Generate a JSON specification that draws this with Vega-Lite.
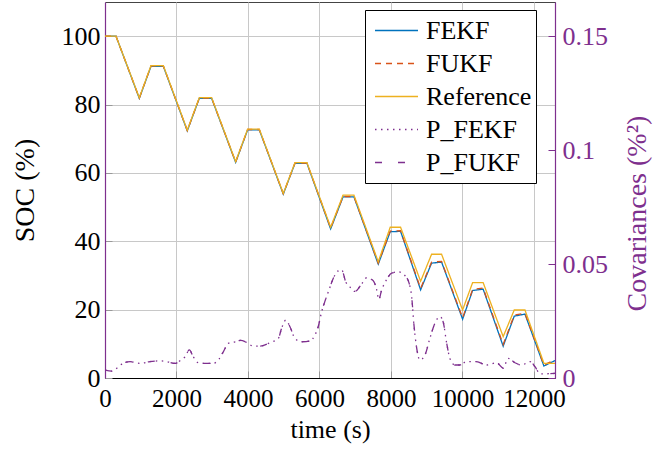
{
  "$schema": "https://vega.github.io/schema/vega-lite/v6.json",
  "width": 450,
  "height": 376,
  "autosize": {"type": "none"},
  "padding": {"left": 105, "top": 2, "right": 101, "bottom": 77},
  "background": "white",
  "config": {
    "font": "Liberation Serif",
    "view": {"stroke": "#444", "strokeWidth": 1},
    "legend": {
      "orient": "none",
      "legendX": 260,
      "legendY": 8,
      "symbolType": "stroke",
      "symbolSize": 1849,
      "symbolStrokeWidth": 1.3,
      "symbolOffset": 5,
      "labelFontSize": 26,
      "labelFont": "Liberation Serif",
      "labelColor": "black",
      "labelOffset": 7,
      "rowPadding": 0,
      "clipHeight": 33,
      "padding": 4,
      "strokeColor": "black",
      "fillColor": "white",
      "cornerRadius": 0,
      "labelLimit": 300
    }
  },
  "datasets": {
    "soc": [
      {"t": 0, "v": 100, "s": "FEKF"}, {"t": 308, "v": 100, "s": "FEKF"}, {"t": 960, "v": 81.8, "s": "FEKF"}, {"t": 1287, "v": 91.2, "s": "FEKF"}, {"t": 1632, "v": 91.2, "s": "FEKF"}, {"t": 2302, "v": 72.3, "s": "FEKF"}, {"t": 2638, "v": 81.8, "s": "FEKF"}, {"t": 2984, "v": 81.8, "s": "FEKF"}, {"t": 3655, "v": 63.1, "s": "FEKF"}, {"t": 3991, "v": 72.6, "s": "FEKF"}, {"t": 4317, "v": 72.6, "s": "FEKF"}, {"t": 4988, "v": 53.8, "s": "FEKF"}, {"t": 5315, "v": 62.8, "s": "FEKF"}, {"t": 5650, "v": 62.8, "s": "FEKF"}, {"t": 6313, "v": 43.6, "s": "FEKF"}, {"t": 6660, "v": 53.0, "s": "FEKF"}, {"t": 6965, "v": 53.0, "s": "FEKF"}, {"t": 7645, "v": 33.3, "s": "FEKF"}, {"t": 7980, "v": 42.8, "s": "FEKF"}, {"t": 8270, "v": 42.9, "s": "FEKF"}, {"t": 8830, "v": 25.8, "s": "FEKF"}, {"t": 9137, "v": 33.6, "s": "FEKF"}, {"t": 9417, "v": 33.9, "s": "FEKF"}, {"t": 10005, "v": 17.2, "s": "FEKF"}, {"t": 10285, "v": 25.6, "s": "FEKF"}, {"t": 10580, "v": 26.0, "s": "FEKF"}, {"t": 11140, "v": 9.3, "s": "FEKF"}, {"t": 11450, "v": 18.1, "s": "FEKF"}, {"t": 11750, "v": 18.7, "s": "FEKF"}, {"t": 12280, "v": 3.5, "s": "FEKF"}, {"t": 12590, "v": 5.1, "s": "FEKF"},
      {"t": 0, "v": 100, "s": "FUKF"}, {"t": 308, "v": 100, "s": "FUKF"}, {"t": 960, "v": 81.9, "s": "FUKF"}, {"t": 1287, "v": 91.3, "s": "FUKF"}, {"t": 1632, "v": 91.3, "s": "FUKF"}, {"t": 2302, "v": 72.4, "s": "FUKF"}, {"t": 2638, "v": 81.9, "s": "FUKF"}, {"t": 2984, "v": 81.9, "s": "FUKF"}, {"t": 3655, "v": 63.2, "s": "FUKF"}, {"t": 3991, "v": 72.7, "s": "FUKF"}, {"t": 4317, "v": 72.7, "s": "FUKF"}, {"t": 4988, "v": 53.9, "s": "FUKF"}, {"t": 5315, "v": 62.9, "s": "FUKF"}, {"t": 5650, "v": 62.9, "s": "FUKF"}, {"t": 6313, "v": 43.9, "s": "FUKF"}, {"t": 6660, "v": 53.1, "s": "FUKF"}, {"t": 6965, "v": 53.1, "s": "FUKF"}, {"t": 7645, "v": 33.6, "s": "FUKF"}, {"t": 7980, "v": 43.0, "s": "FUKF"}, {"t": 8270, "v": 43.1, "s": "FUKF"}, {"t": 8830, "v": 26.2, "s": "FUKF"}, {"t": 9137, "v": 33.9, "s": "FUKF"}, {"t": 9417, "v": 34.1, "s": "FUKF"}, {"t": 10005, "v": 17.6, "s": "FUKF"}, {"t": 10285, "v": 25.9, "s": "FUKF"}, {"t": 10580, "v": 26.3, "s": "FUKF"}, {"t": 11140, "v": 9.8, "s": "FUKF"}, {"t": 11450, "v": 18.4, "s": "FUKF"}, {"t": 11750, "v": 18.9, "s": "FUKF"}, {"t": 12280, "v": 3.8, "s": "FUKF"}, {"t": 12590, "v": 5.3, "s": "FUKF"},
      {"t": 0, "v": 100, "s": "Reference"}, {"t": 308, "v": 100, "s": "Reference"}, {"t": 960, "v": 82.0, "s": "Reference"}, {"t": 1287, "v": 91.4, "s": "Reference"}, {"t": 1632, "v": 91.4, "s": "Reference"}, {"t": 2302, "v": 72.5, "s": "Reference"}, {"t": 2638, "v": 82.0, "s": "Reference"}, {"t": 2984, "v": 82.0, "s": "Reference"}, {"t": 3655, "v": 63.3, "s": "Reference"}, {"t": 3991, "v": 72.8, "s": "Reference"}, {"t": 4317, "v": 72.8, "s": "Reference"}, {"t": 4988, "v": 54.0, "s": "Reference"}, {"t": 5315, "v": 63.0, "s": "Reference"}, {"t": 5650, "v": 63.0, "s": "Reference"}, {"t": 6313, "v": 44.1, "s": "Reference"}, {"t": 6660, "v": 53.5, "s": "Reference"}, {"t": 6965, "v": 53.5, "s": "Reference"}, {"t": 7645, "v": 34.0, "s": "Reference"}, {"t": 7980, "v": 44.1, "s": "Reference"}, {"t": 8270, "v": 44.1, "s": "Reference"}, {"t": 8830, "v": 28.3, "s": "Reference"}, {"t": 9137, "v": 36.2, "s": "Reference"}, {"t": 9417, "v": 36.2, "s": "Reference"}, {"t": 10005, "v": 19.9, "s": "Reference"}, {"t": 10285, "v": 27.9, "s": "Reference"}, {"t": 10580, "v": 27.9, "s": "Reference"}, {"t": 11140, "v": 12.1, "s": "Reference"}, {"t": 11450, "v": 19.9, "s": "Reference"}, {"t": 11750, "v": 19.9, "s": "Reference"}, {"t": 12280, "v": 4.3, "s": "Reference"}, {"t": 12590, "v": 4.3, "s": "Reference"}
    ],
    "cov": [
      {"t": 0, "c": 0.0035, "s": "P_FEKF"}, {"t": 190, "c": 0.003, "s": "P_FEKF"}, {"t": 330, "c": 0.0043, "s": "P_FEKF"}, {"t": 470, "c": 0.0061, "s": "P_FEKF"}, {"t": 700, "c": 0.0072, "s": "P_FEKF"}, {"t": 980, "c": 0.0064, "s": "P_FEKF"}, {"t": 1260, "c": 0.0072, "s": "P_FEKF"}, {"t": 1540, "c": 0.0075, "s": "P_FEKF"}, {"t": 1725, "c": 0.0072, "s": "P_FEKF"}, {"t": 1960, "c": 0.0064, "s": "P_FEKF"}, {"t": 2100, "c": 0.0076, "s": "P_FEKF"}, {"t": 2240, "c": 0.0093, "s": "P_FEKF"}, {"t": 2360, "c": 0.0123, "s": "P_FEKF"}, {"t": 2470, "c": 0.0093, "s": "P_FEKF"}, {"t": 2610, "c": 0.0067, "s": "P_FEKF"}, {"t": 2840, "c": 0.0064, "s": "P_FEKF"}, {"t": 3030, "c": 0.0064, "s": "P_FEKF"}, {"t": 3170, "c": 0.0079, "s": "P_FEKF"}, {"t": 3310, "c": 0.0115, "s": "P_FEKF"}, {"t": 3450, "c": 0.0152, "s": "P_FEKF"}, {"t": 3640, "c": 0.0159, "s": "P_FEKF"}, {"t": 3800, "c": 0.0165, "s": "P_FEKF"}, {"t": 3950, "c": 0.0157, "s": "P_FEKF"}, {"t": 4150, "c": 0.014, "s": "P_FEKF"}, {"t": 4335, "c": 0.014, "s": "P_FEKF"}, {"t": 4615, "c": 0.0155, "s": "P_FEKF"}, {"t": 4850, "c": 0.0174, "s": "P_FEKF"}, {"t": 4940, "c": 0.0218, "s": "P_FEKF"}, {"t": 5060, "c": 0.0254, "s": "P_FEKF"}, {"t": 5175, "c": 0.0225, "s": "P_FEKF"}, {"t": 5315, "c": 0.0174, "s": "P_FEKF"}, {"t": 5500, "c": 0.0159, "s": "P_FEKF"}, {"t": 5735, "c": 0.0162, "s": "P_FEKF"}, {"t": 5875, "c": 0.0189, "s": "P_FEKF"}, {"t": 5965, "c": 0.0225, "s": "P_FEKF"}, {"t": 6060, "c": 0.029, "s": "P_FEKF"}, {"t": 6150, "c": 0.0335, "s": "P_FEKF"}, {"t": 6275, "c": 0.039, "s": "P_FEKF"}, {"t": 6385, "c": 0.0437, "s": "P_FEKF"}, {"t": 6525, "c": 0.047, "s": "P_FEKF"}, {"t": 6620, "c": 0.0475, "s": "P_FEKF"}, {"t": 6740, "c": 0.042, "s": "P_FEKF"}, {"t": 6850, "c": 0.04, "s": "P_FEKF"}, {"t": 6990, "c": 0.038, "s": "P_FEKF"}, {"t": 7180, "c": 0.0413, "s": "P_FEKF"}, {"t": 7320, "c": 0.044, "s": "P_FEKF"}, {"t": 7505, "c": 0.0427, "s": "P_FEKF"}, {"t": 7600, "c": 0.0388, "s": "P_FEKF"}, {"t": 7660, "c": 0.0345, "s": "P_FEKF"}, {"t": 7740, "c": 0.0386, "s": "P_FEKF"}, {"t": 7880, "c": 0.0432, "s": "P_FEKF"}, {"t": 8020, "c": 0.046, "s": "P_FEKF"}, {"t": 8205, "c": 0.0466, "s": "P_FEKF"}, {"t": 8390, "c": 0.045, "s": "P_FEKF"}, {"t": 8510, "c": 0.0415, "s": "P_FEKF"}, {"t": 8580, "c": 0.0357, "s": "P_FEKF"}, {"t": 8640, "c": 0.024, "s": "P_FEKF"}, {"t": 8715, "c": 0.0137, "s": "P_FEKF"}, {"t": 8810, "c": 0.0079, "s": "P_FEKF"}, {"t": 8950, "c": 0.01, "s": "P_FEKF"}, {"t": 9090, "c": 0.0174, "s": "P_FEKF"}, {"t": 9230, "c": 0.024, "s": "P_FEKF"}, {"t": 9370, "c": 0.0269, "s": "P_FEKF"}, {"t": 9460, "c": 0.0247, "s": "P_FEKF"}, {"t": 9560, "c": 0.0152, "s": "P_FEKF"}, {"t": 9650, "c": 0.0086, "s": "P_FEKF"}, {"t": 9790, "c": 0.0057, "s": "P_FEKF"}, {"t": 9930, "c": 0.0057, "s": "P_FEKF"}, {"t": 10115, "c": 0.0072, "s": "P_FEKF"}, {"t": 10395, "c": 0.0072, "s": "P_FEKF"}, {"t": 10675, "c": 0.0057, "s": "P_FEKF"}, {"t": 10955, "c": 0.0067, "s": "P_FEKF"}, {"t": 11140, "c": 0.0043, "s": "P_FEKF"}, {"t": 11280, "c": 0.0086, "s": "P_FEKF"}, {"t": 11470, "c": 0.0067, "s": "P_FEKF"}, {"t": 11655, "c": 0.0057, "s": "P_FEKF"}, {"t": 11890, "c": 0.0072, "s": "P_FEKF"}, {"t": 12030, "c": 0.005, "s": "P_FEKF"}, {"t": 12170, "c": 0.0018, "s": "P_FEKF"}, {"t": 12590, "c": 0.002, "s": "P_FEKF"},
      {"t": 0, "c": 0.0035, "s": "P_FUKF"}, {"t": 190, "c": 0.003, "s": "P_FUKF"}, {"t": 330, "c": 0.0043, "s": "P_FUKF"}, {"t": 470, "c": 0.0061, "s": "P_FUKF"}, {"t": 700, "c": 0.0072, "s": "P_FUKF"}, {"t": 980, "c": 0.0064, "s": "P_FUKF"}, {"t": 1260, "c": 0.0072, "s": "P_FUKF"}, {"t": 1540, "c": 0.0075, "s": "P_FUKF"}, {"t": 1725, "c": 0.0072, "s": "P_FUKF"}, {"t": 1960, "c": 0.0064, "s": "P_FUKF"}, {"t": 2100, "c": 0.0076, "s": "P_FUKF"}, {"t": 2240, "c": 0.0093, "s": "P_FUKF"}, {"t": 2360, "c": 0.0123, "s": "P_FUKF"}, {"t": 2470, "c": 0.0093, "s": "P_FUKF"}, {"t": 2610, "c": 0.0067, "s": "P_FUKF"}, {"t": 2840, "c": 0.0064, "s": "P_FUKF"}, {"t": 3030, "c": 0.0064, "s": "P_FUKF"}, {"t": 3170, "c": 0.0079, "s": "P_FUKF"}, {"t": 3310, "c": 0.0115, "s": "P_FUKF"}, {"t": 3450, "c": 0.0152, "s": "P_FUKF"}, {"t": 3640, "c": 0.0159, "s": "P_FUKF"}, {"t": 3800, "c": 0.0165, "s": "P_FUKF"}, {"t": 3950, "c": 0.0157, "s": "P_FUKF"}, {"t": 4150, "c": 0.014, "s": "P_FUKF"}, {"t": 4335, "c": 0.014, "s": "P_FUKF"}, {"t": 4615, "c": 0.0155, "s": "P_FUKF"}, {"t": 4850, "c": 0.0174, "s": "P_FUKF"}, {"t": 4940, "c": 0.0218, "s": "P_FUKF"}, {"t": 5060, "c": 0.0254, "s": "P_FUKF"}, {"t": 5175, "c": 0.0225, "s": "P_FUKF"}, {"t": 5315, "c": 0.0174, "s": "P_FUKF"}, {"t": 5500, "c": 0.0159, "s": "P_FUKF"}, {"t": 5735, "c": 0.0162, "s": "P_FUKF"}, {"t": 5875, "c": 0.0189, "s": "P_FUKF"}, {"t": 5965, "c": 0.0225, "s": "P_FUKF"}, {"t": 6060, "c": 0.029, "s": "P_FUKF"}, {"t": 6150, "c": 0.0335, "s": "P_FUKF"}, {"t": 6275, "c": 0.039, "s": "P_FUKF"}, {"t": 6385, "c": 0.0437, "s": "P_FUKF"}, {"t": 6525, "c": 0.047, "s": "P_FUKF"}, {"t": 6620, "c": 0.0475, "s": "P_FUKF"}, {"t": 6740, "c": 0.042, "s": "P_FUKF"}, {"t": 6850, "c": 0.04, "s": "P_FUKF"}, {"t": 6990, "c": 0.038, "s": "P_FUKF"}, {"t": 7180, "c": 0.0413, "s": "P_FUKF"}, {"t": 7320, "c": 0.044, "s": "P_FUKF"}, {"t": 7505, "c": 0.0427, "s": "P_FUKF"}, {"t": 7600, "c": 0.0388, "s": "P_FUKF"}, {"t": 7660, "c": 0.0345, "s": "P_FUKF"}, {"t": 7740, "c": 0.0386, "s": "P_FUKF"}, {"t": 7880, "c": 0.0432, "s": "P_FUKF"}, {"t": 8020, "c": 0.046, "s": "P_FUKF"}, {"t": 8205, "c": 0.0466, "s": "P_FUKF"}, {"t": 8390, "c": 0.045, "s": "P_FUKF"}, {"t": 8510, "c": 0.0415, "s": "P_FUKF"}, {"t": 8580, "c": 0.0357, "s": "P_FUKF"}, {"t": 8640, "c": 0.024, "s": "P_FUKF"}, {"t": 8715, "c": 0.0137, "s": "P_FUKF"}, {"t": 8810, "c": 0.0079, "s": "P_FUKF"}, {"t": 8950, "c": 0.01, "s": "P_FUKF"}, {"t": 9090, "c": 0.0174, "s": "P_FUKF"}, {"t": 9230, "c": 0.024, "s": "P_FUKF"}, {"t": 9370, "c": 0.0269, "s": "P_FUKF"}, {"t": 9460, "c": 0.0247, "s": "P_FUKF"}, {"t": 9560, "c": 0.0152, "s": "P_FUKF"}, {"t": 9650, "c": 0.0086, "s": "P_FUKF"}, {"t": 9790, "c": 0.0057, "s": "P_FUKF"}, {"t": 9930, "c": 0.0057, "s": "P_FUKF"}, {"t": 10115, "c": 0.0072, "s": "P_FUKF"}, {"t": 10395, "c": 0.0072, "s": "P_FUKF"}, {"t": 10675, "c": 0.0057, "s": "P_FUKF"}, {"t": 10955, "c": 0.0067, "s": "P_FUKF"}, {"t": 11140, "c": 0.0043, "s": "P_FUKF"}, {"t": 11280, "c": 0.0086, "s": "P_FUKF"}, {"t": 11470, "c": 0.0067, "s": "P_FUKF"}, {"t": 11655, "c": 0.0057, "s": "P_FUKF"}, {"t": 11890, "c": 0.0072, "s": "P_FUKF"}, {"t": 12030, "c": 0.005, "s": "P_FUKF"}, {"t": 12170, "c": 0.0018, "s": "P_FUKF"}, {"t": 12590, "c": 0.002, "s": "P_FUKF"}
    ]
  },
  "layer": [
    {
      "data": {"name": "soc"},
      "mark": {"type": "line", "strokeWidth": 1.3, "clip": true},
      "encoding": {
        "x": {
          "field": "t", "type": "quantitative",
          "scale": {"domain": [0, 12590], "nice": false, "zero": false},
          "axis": {
            "values": [0, 2000, 4000, 6000, 8000, 10000, 12000],
            "format": "d",
            "title": "time (s)",
            "grid": true, "gridColor": "#c8c8c8", "gridWidth": 1,
            "domainColor": "black", "domainWidth": 1,
            "tickColor": "#999", "tickSize": -7, "tickWidth": 1,
            "labelFontSize": 25, "labelColor": "black", "labelPadding": 15,
            "labelFlush": false, "labelOverlap": false,
            "titleFontSize": 26, "titleFontWeight": "normal", "titleColor": "black", "titlePadding": 5
          }
        },
        "y": {
          "field": "v", "type": "quantitative",
          "scale": {"domain": [0, 110], "nice": false},
          "axis": {
            "values": [0, 20, 40, 60, 80, 100],
            "title": "SOC (%)",
            "grid": true, "gridColor": "#c8c8c8", "gridWidth": 1,
            "domainColor": "#7E2F8E", "domainWidth": 1.2,
            "tickColor": "#999", "tickSize": -7, "tickWidth": 1,
            "labelFontSize": 26, "labelColor": "black", "labelPadding": 12,
            "labelFlush": false,
            "titleFontSize": 28, "titleFontWeight": "normal", "titleColor": "black",
            "titleAngle": 270, "titleX": -80, "titleY": 188, "titleAlign": "center", "titleBaseline": "middle"
          }
        },
        "color": {
          "field": "s", "type": "nominal",
          "scale": {"domain": ["FEKF", "FUKF", "Reference", "P_FEKF", "P_FUKF"], "range": ["#0072BD", "#D95319", "#EDB120", "#7E2F8E", "#7E2F8E"]},
          "legend": {"title": null}
        },
        "strokeDash": {
          "field": "s", "type": "nominal",
          "scale": {"domain": ["FEKF", "FUKF", "Reference", "P_FEKF", "P_FUKF"], "range": [[1, 0], [6, 5], [1, 0], [1.5, 4.5], [7, 16]]},
          "legend": {"title": null}
        }
      }
    },
    {
      "data": {"name": "cov"},
      "mark": {"type": "line", "strokeWidth": 1.3, "interpolate": "monotone", "clip": true},
      "encoding": {
        "x": {"field": "t", "type": "quantitative"},
        "y": {
          "field": "c", "type": "quantitative",
          "scale": {"domain": [0, 0.165], "nice": false},
          "axis": {
            "orient": "right",
            "values": [0, 0.05, 0.1, 0.15],
            "format": "~g",
            "title": "Covariances (%²)",
            "grid": false,
            "domainColor": "#7E2F8E", "domainWidth": 1.2,
            "tickColor": "#7E2F8E", "tickSize": -7, "tickWidth": 1,
            "labelFontSize": 26, "labelColor": "#7E2F8E", "labelPadding": 14,
            "labelFlush": false,
            "titleFontSize": 28, "titleFontWeight": "normal", "titleColor": "#7E2F8E",
            "titleAngle": 270, "titleX": 82, "titleY": 211, "titleAlign": "center", "titleBaseline": "middle"
          }
        },
        "color": {"field": "s", "type": "nominal"},
        "strokeDash": {"field": "s", "type": "nominal"}
      }
    }
  ],
  "resolve": {"scale": {"y": "independent"}}
}
